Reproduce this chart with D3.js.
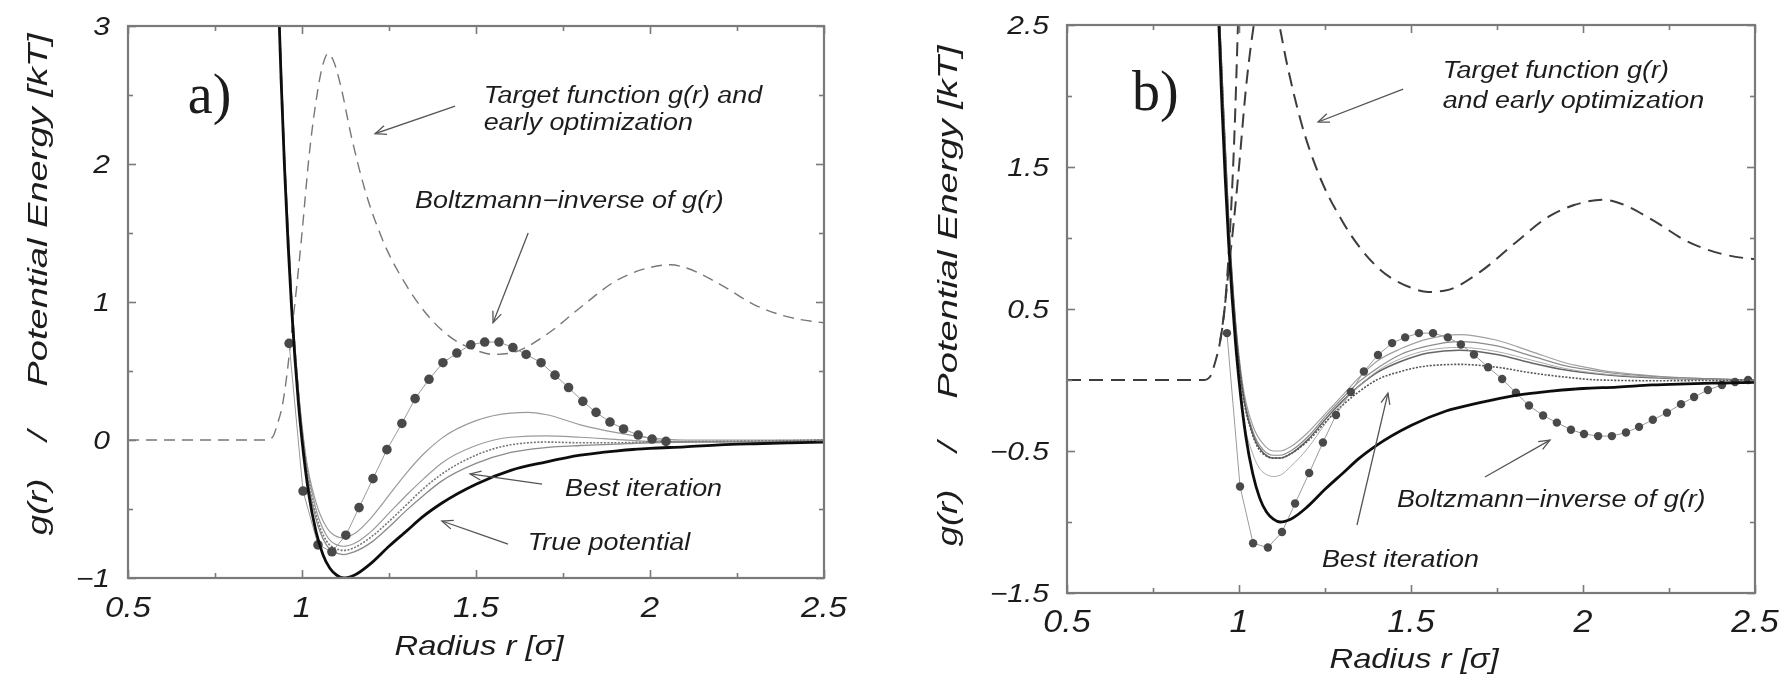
<!DOCTYPE html>
<html>
<head>
<meta charset="utf-8">
<script src="https://cdn.jsdelivr.net/npm/d3@7"></script>
<style>
  html, body { margin: 0; padding: 0; background: #fff; }
  svg { display: block; }
</style>
</head>
<body>
<svg id="chart" width="1784" height="678"></svg>
<script>
// ---- tick labels ----
const xTickValues = [0.5, 1, 1.5, 2, 2.5];
const xTickLabels = ["0.5", "1", "1.5", "2", "2.5"];
const yTickValuesA = [-1, 0, 1, 2, 3];
const yTickLabelsA = ["\u22121", "0", "1", "2", "3"];
const yTickValuesB = [-1.5, -0.5, 0.5, 1.5, 2.5];
const yTickLabelsB = ["\u22121.5", "\u22120.5", "0.5", "1.5", "2.5"];

// ---- curves: [radius r (sigma), value] ----
// target radial distribution function g(r)
const targetG = [[0.5,0],[0.9,0],[0.915,0.02],[0.93,0.12],[0.945,0.27],[0.957,0.48],[0.97,0.78],[0.98,1.0],[1.0,1.5],[1.02,2.05],[1.04,2.45],[1.06,2.72],[1.075,2.8],[1.09,2.75],[1.11,2.58],[1.14,2.22],[1.18,1.82],[1.23,1.46],[1.3,1.12],[1.4,0.8],[1.5,0.65],[1.55,0.62],[1.6,0.63],[1.7,0.76],[1.8,0.96],[1.9,1.15],[2.0,1.25],[2.06,1.27],[2.1,1.25],[2.2,1.13],[2.3,0.98],[2.4,0.89],[2.5,0.85]];

// true pair potential
const truePotential = [[0.92,4.28],[0.93,3.37],[0.94,2.61],[0.95,1.96],[0.96,1.42],[0.97,0.96],[0.98,0.58],[0.99,0.26],[1.0,0],[1.02,-0.4],[1.04,-0.66],[1.06,-0.83],[1.08,-0.93],[1.1,-0.98],[1.12,-1.0],[1.15,-0.98],[1.2,-0.89],[1.25,-0.77],[1.3,-0.66],[1.35,-0.55],[1.4,-0.46],[1.5,-0.32],[1.6,-0.22],[1.7,-0.16],[1.8,-0.11],[1.9,-0.08],[2.0,-0.06],[2.1,-0.05],[2.2,-0.035],[2.3,-0.027],[2.4,-0.021],[2.5,-0.016]];

// panel a: Boltzmann inverse of g(r)
const boltzmannA = [[0.963,0.70],[1.003,-0.37],[1.046,-0.76],[1.086,-0.81],[1.126,-0.69],[1.164,-0.49],[1.204,-0.28],[1.244,-0.07],[1.287,0.12],[1.325,0.30],[1.365,0.44],[1.405,0.56],[1.445,0.63],[1.485,0.69],[1.525,0.71],[1.566,0.71],[1.606,0.67],[1.644,0.62],[1.687,0.56],[1.727,0.47],[1.766,0.38],[1.807,0.28],[1.845,0.20],[1.885,0.13],[1.924,0.08],[1.966,0.036],[2.006,0.007],[2.046,-0.01]];

// panel a: iterated potentials
const iterA1 = [[0.93,3.4],[0.95,2.05],[0.97,1.05],[0.99,0.36],[1.01,-0.1],[1.04,-0.45],[1.07,-0.63],[1.1,-0.70],[1.12,-0.71],[1.15,-0.68],[1.2,-0.56],[1.25,-0.40],[1.3,-0.24],[1.35,-0.1],[1.4,0.01],[1.5,0.14],[1.6,0.195],[1.65,0.2],[1.7,0.185],[1.8,0.11],[1.9,0.055],[2.0,0.015],[2.1,0.0],[2.3,0.0],[2.5,0.0]];
const iterA2 = [[0.93,3.4],[0.95,2.05],[0.97,1.05],[0.99,0.35],[1.01,-0.12],[1.04,-0.5],[1.07,-0.69],[1.1,-0.76],[1.12,-0.77],[1.15,-0.75],[1.2,-0.66],[1.25,-0.53],[1.3,-0.4],[1.35,-0.28],[1.4,-0.17],[1.5,-0.04],[1.6,0.02],[1.7,0.03],[1.8,0.02],[1.9,0.005],[2.0,-0.01],[2.2,-0.01],[2.5,0.0]];
const iterA3 = [[0.93,3.4],[0.95,2.02],[0.97,1.02],[0.99,0.33],[1.01,-0.15],[1.04,-0.54],[1.07,-0.73],[1.1,-0.79],[1.12,-0.80],[1.15,-0.78],[1.2,-0.70],[1.25,-0.59],[1.3,-0.47],[1.35,-0.35],[1.4,-0.25],[1.5,-0.11],[1.6,-0.035],[1.7,-0.015],[1.8,-0.02],[1.9,-0.02],[2.0,-0.015],[2.2,-0.01],[2.5,0.0]];
const iterA4 = [[0.93,3.4],[0.95,2.0],[0.97,1.0],[0.99,0.31],[1.01,-0.18],[1.04,-0.57],[1.07,-0.76],[1.1,-0.82],[1.12,-0.83],[1.15,-0.81],[1.2,-0.74],[1.25,-0.63],[1.3,-0.51],[1.35,-0.4],[1.4,-0.3],[1.5,-0.17],[1.6,-0.09],[1.7,-0.055],[1.8,-0.04],[1.9,-0.03],[2.0,-0.02],[2.2,-0.015],[2.5,-0.01]];

// panel b: Boltzmann inverse of g(r)
const boltzmannB = [[0.965,0.33],[1.003,-0.75],[1.041,-1.15],[1.084,-1.18],[1.125,-1.07],[1.163,-0.87],[1.204,-0.655],[1.244,-0.44],[1.282,-0.246],[1.325,-0.085],[1.363,0.06],[1.404,0.176],[1.445,0.26],[1.483,0.30],[1.523,0.33],[1.564,0.33],[1.607,0.30],[1.645,0.25],[1.683,0.18],[1.724,0.09],[1.765,0.007],[1.805,-0.09],[1.843,-0.18],[1.884,-0.25],[1.924,-0.30],[1.965,-0.35],[2.003,-0.38],[2.044,-0.395],[2.084,-0.395],[2.125,-0.37],[2.163,-0.33],[2.203,-0.28],[2.244,-0.23],[2.285,-0.17],[2.323,-0.12],[2.363,-0.07],[2.404,-0.035],[2.442,-0.014],[2.48,0.0]];

// panel b: early optimization (steeper dashed curve)
const earlyB = [[0.945,0.27],[0.96,0.55],[0.975,1.1],[0.987,1.75],[0.997,2.5],[1.005,3.1]];

// panel b: iterated potentials
const iterB1 = [[0.935,3.0],[0.95,2.2],[0.97,1.15],[0.99,0.42],[1.01,-0.02],[1.04,-0.32],[1.07,-0.45],[1.1,-0.50],[1.12,-0.50],[1.15,-0.47],[1.2,-0.37],[1.25,-0.24],[1.3,-0.11],[1.35,0.02],[1.4,0.13],[1.47,0.22],[1.55,0.29],[1.64,0.32],[1.75,0.28],[1.85,0.2],[1.95,0.12],[2.05,0.07],[2.2,0.03],[2.35,0.01],[2.5,0.0]];
const iterB2 = [[0.935,3.0],[0.95,2.2],[0.97,1.12],[0.99,0.4],[1.01,-0.05],[1.04,-0.36],[1.07,-0.49],[1.1,-0.53],[1.12,-0.53],[1.15,-0.5],[1.2,-0.4],[1.25,-0.26],[1.3,-0.13],[1.35,-0.01],[1.4,0.08],[1.47,0.18],[1.55,0.24],[1.64,0.27],[1.75,0.24],[1.85,0.17],[1.95,0.1],[2.05,0.06],[2.2,0.025],[2.35,0.01],[2.5,0.0]];
const iterB3 = [[0.935,3.0],[0.95,2.15],[0.97,1.1],[0.99,0.38],[1.01,-0.07],[1.04,-0.38],[1.07,-0.51],[1.1,-0.55],[1.12,-0.55],[1.15,-0.52],[1.2,-0.42],[1.25,-0.28],[1.3,-0.15],[1.35,-0.04],[1.4,0.05],[1.47,0.13],[1.55,0.19],[1.64,0.21],[1.75,0.18],[1.85,0.12],[1.95,0.07],[2.05,0.04],[2.2,0.015],[2.35,0.005],[2.5,0.0]];
const iterB4 = [[0.935,3.0],[0.95,2.1],[0.97,1.0],[0.99,0.25],[1.01,-0.22],[1.04,-0.52],[1.07,-0.65],[1.1,-0.68],[1.12,-0.67],[1.15,-0.61],[1.2,-0.48],[1.25,-0.31],[1.3,-0.16],[1.35,-0.04],[1.4,0.06],[1.47,0.15],[1.55,0.21],[1.64,0.23],[1.75,0.2],[1.85,0.14],[1.95,0.08],[2.05,0.045],[2.2,0.02],[2.35,0.005],[2.5,0.0]];
const iterB5 = [[0.935,3.0],[0.95,2.15],[0.97,1.08],[0.99,0.36],[1.01,-0.08],[1.04,-0.39],[1.07,-0.52],[1.1,-0.55],[1.12,-0.55],[1.15,-0.52],[1.2,-0.43],[1.25,-0.3],[1.3,-0.18],[1.35,-0.08],[1.4,0.0],[1.47,0.06],[1.55,0.1],[1.64,0.11],[1.75,0.09],[1.85,0.05],[1.95,0.02],[2.05,0.0],[2.2,-0.005],[2.5,0.0]];

// ---- annotations (data coordinates) ----
const notesA = [
  { lines: ["Target function g(r) and", "early optimization"], at: [1.522, 2.44], lh: 0.19 },
  { lines: ["Boltzmann\u2212inverse of g(r)"], at: [1.325, 1.68] },
  { lines: ["Best iteration"], at: [1.756, -0.406] },
  { lines: ["True potential"], at: [1.649, -0.80] }
];
const arrowsA = [
  [[1.44, 2.42], [1.21, 2.22]],
  [[1.65, 1.50], [1.549, 0.85]],
  [[1.69, -0.32], [1.483, -0.246]],
  [[1.592, -0.754], [1.402, -0.587]]
];
const notesB = [
  { lines: ["Target function g(r)", "and early optimization"], at: [1.592, 2.127], lh: 0.212 },
  { lines: ["Boltzmann\u2212inverse of g(r)"], at: [1.459, -0.894] },
  { lines: ["Best iteration"], at: [1.241, -1.317] }
];
const arrowsB = [
  [[1.477, 2.049], [1.23, 1.817]],
  [[1.715, -0.683], [1.904, -0.423]],
  [[1.343, -1.021], [1.433, -0.092]]
];

const svg = d3.select("#chart");
const defs = svg.append("defs");

defs.append("filter").attr("id", "soft")
  .append("feGaussianBlur").attr("stdDeviation", 0.55);

defs.append("marker")
  .attr("id", "openArrow")
  .attr("viewBox", "-12 -6 14 12")
  .attr("refX", 0).attr("refY", 0)
  .attr("markerWidth", 14).attr("markerHeight", 12)
  .attr("markerUnits", "userSpaceOnUse")
  .attr("orient", "auto")
  .append("path")
  .attr("d", "M-11,-4.5 L0,0 L-11,4.5")
  .attr("fill", "none")
  .attr("stroke", "#555")
  .attr("stroke-width", 1.3);

const root = svg.append("g").attr("filter", "url(#soft)");

const FONT = "'Liberation Sans', Arial, Helvetica, sans-serif";

function stretchedText(g, x, y, str, opt) {
  const t = g.append("text")
    .attr("transform", `translate(${x},${y})` + (opt.rotate ? ` rotate(${opt.rotate})` : "") + ` scale(${opt.sx || 1},1)`)
    .attr("font-family", opt.family || FONT)
    .attr("font-style", opt.italic === false ? "normal" : "italic")
    .attr("font-size", opt.size)
    .attr("fill", opt.fill || "#1f1f1f")
    .attr("text-anchor", opt.anchor || "start")
    .text(str);
  return t;
}

function drawPanel(cfg) {
  const x = d3.scaleLinear().domain([0.5, 2.5]).range([cfg.left, cfg.right]);
  const y = d3.scaleLinear().domain(cfg.yDomain).range([cfg.bottom, cfg.top]);
  const g = root.append("g");

  const clipId = "clip-" + cfg.id;
  defs.append("clipPath").attr("id", clipId)
    .append("rect")
    .attr("x", cfg.left).attr("y", cfg.top)
    .attr("width", cfg.right - cfg.left).attr("height", cfg.bottom - cfg.top);

  const plot = g.append("g").attr("clip-path", `url(#${clipId})`);
  const smooth = d3.line().x(d => x(d[0])).y(d => y(d[1])).curve(d3.curveMonotoneX);
  const straight = d3.line().x(d => x(d[0])).y(d => y(d[1]));

  // target g(r), dashed
  plot.append("path").datum(targetG)
    .attr("d", smooth).attr("fill", "none")
    .attr("stroke", cfg.dashColor).attr("stroke-width", cfg.dashWidth)
    .attr("stroke-dasharray", cfg.dashPattern);

  if (cfg.early) {
    plot.append("path").datum(cfg.early)
      .attr("d", smooth).attr("fill", "none")
      .attr("stroke", cfg.dashColor).attr("stroke-width", cfg.dashWidth)
      .attr("stroke-dasharray", cfg.dashPattern);
  }

  // iterated potentials
  cfg.iterations.forEach(it => {
    plot.append("path").datum(it.data)
      .attr("d", smooth).attr("fill", "none")
      .attr("stroke", it.color).attr("stroke-width", it.width)
      .attr("stroke-dasharray", it.dash || null);
  });

  // Boltzmann inverse: thin connecting line + dots
  plot.append("path").datum(cfg.boltzmann)
    .attr("d", straight).attr("fill", "none")
    .attr("stroke", "#9a9a9a").attr("stroke-width", 1);
  plot.selectAll("circle.bi").data(cfg.boltzmann).join("circle")
    .attr("class", "bi")
    .attr("cx", d => x(d[0])).attr("cy", d => y(d[1]))
    .attr("r", cfg.dotR).attr("fill", "#4a4a4a");

  // true potential
  plot.append("path").datum(truePotential)
    .attr("d", smooth).attr("fill", "none")
    .attr("stroke", "#111").attr("stroke-width", 2.8);

  // frame with inward ticks on all four sides
  const axisColor = "#7a7a7a";
  const xMinor = d3.range(0.75, 2.5, 0.5);
  const yMinor = cfg.yMinor;
  function ticksOn(axisGen, transform) {
    const a = g.append("g").attr("transform", transform).call(axisGen);
    a.select(".domain").remove();
    a.selectAll("text").remove();
    a.selectAll("line").attr("stroke", axisColor).attr("stroke-width", 1.6);
  }
  ticksOn(d3.axisBottom(x).tickValues(xTickValues).tickSize(-8), `translate(0,${cfg.bottom})`);
  ticksOn(d3.axisBottom(x).tickValues(xMinor).tickSize(-5), `translate(0,${cfg.bottom})`);
  ticksOn(d3.axisTop(x).tickValues(xTickValues).tickSize(-8), `translate(0,${cfg.top})`);
  ticksOn(d3.axisTop(x).tickValues(xMinor).tickSize(-5), `translate(0,${cfg.top})`);
  ticksOn(d3.axisLeft(y).tickValues(cfg.yTicks).tickSize(-8), `translate(${cfg.left},0)`);
  ticksOn(d3.axisLeft(y).tickValues(yMinor).tickSize(-5), `translate(${cfg.left},0)`);
  ticksOn(d3.axisRight(y).tickValues(cfg.yTicks).tickSize(-8), `translate(${cfg.right},0)`);
  ticksOn(d3.axisRight(y).tickValues(yMinor).tickSize(-5), `translate(${cfg.right},0)`);

  g.append("rect")
    .attr("x", cfg.left).attr("y", cfg.top)
    .attr("width", cfg.right - cfg.left).attr("height", cfg.bottom - cfg.top)
    .attr("fill", "none").attr("stroke", axisColor).attr("stroke-width", 2.2);

  // tick labels
  xTickValues.forEach((v, i) => {
    stretchedText(g, x(v), cfg.bottom + cfg.xLabelDy, xTickLabels[i],
      { size: cfg.xTickSize, sx: 1.1, anchor: "middle" });
  });
  cfg.yTicks.forEach((v, i) => {
    stretchedText(g, cfg.left - 18, y(v) + 9, cfg.yLabels[i],
      { size: 25, sx: 1.2, anchor: "end" });
  });

  // axis titles
  stretchedText(g, (cfg.left + cfg.right) / 2 + 3, cfg.xTitleY, "Radius r [\u03c3]",
    { size: 28, sx: 1.17, anchor: "middle" });
  const yt = cfg.yTitle;
  stretchedText(g, yt.x, yt.g, "g(r)", { size: 28, sx: 1.3, anchor: "middle", rotate: -90 });
  stretchedText(g, yt.x, yt.slash, "/", { size: 28, sx: 1.3, anchor: "middle", rotate: -90 });
  stretchedText(g, yt.x, yt.pe, "Potential Energy [kT]", { size: 28, sx: 1.36, anchor: "middle", rotate: -90 });

  // panel letter
  stretchedText(g, x(cfg.letterAt[0]), y(cfg.letterAt[1]), cfg.letter,
    { size: 56, italic: false, family: "'Liberation Serif', 'Times New Roman', serif", fill: "#1a1a1a" });

  // annotations
  cfg.notes.forEach(n => {
    n.lines.forEach((line, k) => {
      stretchedText(g, x(n.at[0]), y(n.at[1] - k * (n.lh || 0)), line,
        { size: 23, sx: 1.17 });
    });
  });
  cfg.arrows.forEach(a => {
    g.append("line")
      .attr("x1", x(a[0][0])).attr("y1", y(a[0][1]))
      .attr("x2", x(a[1][0])).attr("y2", y(a[1][1]))
      .attr("stroke", "#555").attr("stroke-width", 1.3)
      .attr("marker-end", "url(#openArrow)");
  });
}

drawPanel({
  id: "a", left: 128, right: 824, top: 26, bottom: 578,
  yDomain: [-1, 3], yTicks: yTickValuesA, yLabels: yTickLabelsA,
  yMinor: [-0.5, 0.5, 1.5, 2.5],
  xLabelDy: 39, xTickSize: 30, xTitleY: 655,
  yTitle: { x: 47, g: 507, slash: 436, pe: 210 },
  letter: "a)", letterAt: [0.672, 2.37],
  dashColor: "#777", dashWidth: 1.4, dashPattern: "11,7",
  dotR: 4.8,
  boltzmann: boltzmannA,
  iterations: [
    { data: iterA1, color: "#9a9a9a", width: 1.2 },
    { data: iterA2, color: "#9a9a9a", width: 1.2 },
    { data: iterA3, color: "#777", width: 1.6, dash: "2,1.5" },
    { data: iterA4, color: "#8a8a8a", width: 1.3 }
  ],
  notes: notesA, arrows: arrowsA
});

drawPanel({
  id: "b", left: 1067, right: 1755, top: 25, bottom: 593,
  yDomain: [-1.5, 2.5], yTicks: yTickValuesB, yLabels: yTickLabelsB,
  yMinor: [-1, 0, 1, 2],
  xLabelDy: 39, xTickSize: 31, xTitleY: 668,
  yTitle: { x: 957, g: 518, slash: 447, pe: 222 },
  letter: "b)", letterAt: [0.689, 1.90],
  dashColor: "#3c3c3c", dashWidth: 2, dashPattern: "14,8",
  early: earlyB,
  dotR: 4.2,
  boltzmann: boltzmannB,
  iterations: [
    { data: iterB1, color: "#a0a0a0", width: 1.2 },
    { data: iterB2, color: "#8c8c8c", width: 1.2 },
    { data: iterB3, color: "#666", width: 1.5 },
    { data: iterB4, color: "#aaa", width: 1.0 },
    { data: iterB5, color: "#555", width: 1.6, dash: "2,1.5" }
  ],
  notes: notesB, arrows: arrowsB
});
</script>
</body>
</html>
